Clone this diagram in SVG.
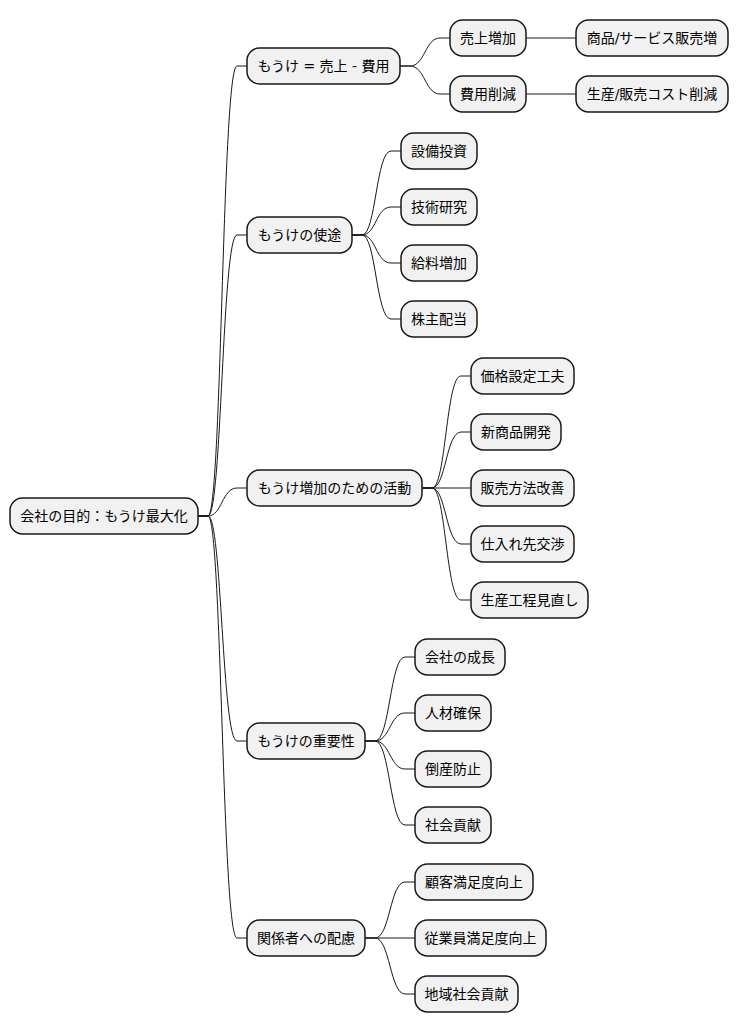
<svg xmlns="http://www.w3.org/2000/svg" width="738" height="1034" viewBox="0 0 738 1034">
<style>
.n rect{fill:#F1F1F1;stroke:#181818;stroke-width:1.5}
.n text{font-family:"DejaVu Sans","Noto Sans CJK JP",sans-serif;font-size:14px;fill:#000;text-anchor:middle}
#edges path{fill:none;stroke:#181818;stroke-width:1}
</style>
<rect width="738" height="1034" fill="#FFFFFF"/>
<g id="edges">
<path d="M198,516 L208,516 C222,516 222,66 237,66 L247,66"/>
<path d="M198,516 L208,516 C222,516 222,235 237,235 L247,235"/>
<path d="M198,516 L208,516 C222,516 222,488 237,488 L247,488"/>
<path d="M198,516 L208,516 C222,516 222,741 237,741 L247,741"/>
<path d="M198,516 L208,516 C222,516 222,938 237,938 L247,938"/>
<path d="M400,66 L410,66 C425,66 425,38 440,38 L450,38"/>
<path d="M400,66 L410,66 C425,66 425,94 440,94 L450,94"/>
<path d="M526,38 L576,38"/>
<path d="M526,94 L576,94"/>
<path d="M352,235 L362,235 C376,235 376,151 391,151 L401,151"/>
<path d="M352,235 L362,235 C376,235 376,207 391,207 L401,207"/>
<path d="M352,235 L362,235 C376,235 376,263 391,263 L401,263"/>
<path d="M352,235 L362,235 C376,235 376,319 391,319 L401,319"/>
<path d="M422,488 L432,488 C446,488 446,376 461,376 L471,376"/>
<path d="M422,488 L432,488 C446,488 446,432 461,432 L471,432"/>
<path d="M422,488 L471,488"/>
<path d="M422,488 L432,488 C446,488 446,544 461,544 L471,544"/>
<path d="M422,488 L432,488 C446,488 446,600 461,600 L471,600"/>
<path d="M365,741 L375,741 C390,741 390,657 405,657 L415,657"/>
<path d="M365,741 L375,741 C390,741 390,713 405,713 L415,713"/>
<path d="M365,741 L375,741 C390,741 390,769 405,769 L415,769"/>
<path d="M365,741 L375,741 C390,741 390,825 405,825 L415,825"/>
<path d="M365,938 L375,938 C390,938 390,882 405,882 L415,882"/>
<path d="M365,938 L415,938"/>
<path d="M365,938 L375,938 C390,938 390,994 405,994 L415,994"/>
</g>
<g id="root" class="n"><rect x="10" y="498" width="188" height="36" rx="12.5"/><text x="104" y="521">会社の目的：もうけ最大化</text></g>
<g id="a" class="n"><rect x="247" y="48" width="153" height="36" rx="12.5"/><text x="323.5" y="71">もうけ = 売上 - 費用</text></g>
<g id="a1" class="n"><rect x="450" y="20" width="76" height="36" rx="12.5"/><text x="488" y="43">売上増加</text></g>
<g id="a1a" class="n"><rect x="576" y="20" width="152" height="36" rx="12.5"/><text x="652" y="43">商品/サービス販売増</text></g>
<g id="a2" class="n"><rect x="450" y="76" width="76" height="36" rx="12.5"/><text x="488" y="99">費用削減</text></g>
<g id="a2a" class="n"><rect x="576" y="76" width="152" height="36" rx="12.5"/><text x="652" y="99">生産/販売コスト削減</text></g>
<g id="b" class="n"><rect x="247" y="217" width="105" height="36" rx="12.5"/><text x="299.5" y="240">もうけの使途</text></g>
<g id="b1" class="n"><rect x="401" y="133" width="76" height="36" rx="12.5"/><text x="439" y="156">設備投資</text></g>
<g id="b2" class="n"><rect x="401" y="189" width="76" height="36" rx="12.5"/><text x="439" y="212">技術研究</text></g>
<g id="b3" class="n"><rect x="401" y="245" width="76" height="36" rx="12.5"/><text x="439" y="268">給料増加</text></g>
<g id="b4" class="n"><rect x="401" y="301" width="76" height="36" rx="12.5"/><text x="439" y="324">株主配当</text></g>
<g id="c" class="n"><rect x="247" y="470" width="175" height="36" rx="12.5"/><text x="334.5" y="493">もうけ増加のための活動</text></g>
<g id="c1" class="n"><rect x="471" y="358" width="103" height="36" rx="12.5"/><text x="522.5" y="381">価格設定工夫</text></g>
<g id="c2" class="n"><rect x="471" y="414" width="90" height="36" rx="12.5"/><text x="516" y="437">新商品開発</text></g>
<g id="c3" class="n"><rect x="471" y="470" width="103" height="36" rx="12.5"/><text x="522.5" y="493">販売方法改善</text></g>
<g id="c4" class="n"><rect x="471" y="526" width="103" height="36" rx="12.5"/><text x="522.5" y="549">仕入れ先交渉</text></g>
<g id="c5" class="n"><rect x="471" y="582" width="117" height="36" rx="12.5"/><text x="529.5" y="605">生産工程見直し</text></g>
<g id="d" class="n"><rect x="247" y="723" width="118" height="36" rx="12.5"/><text x="306" y="746">もうけの重要性</text></g>
<g id="d1" class="n"><rect x="415" y="639" width="90" height="36" rx="12.5"/><text x="460" y="662">会社の成長</text></g>
<g id="d2" class="n"><rect x="415" y="695" width="76" height="36" rx="12.5"/><text x="453" y="718">人材確保</text></g>
<g id="d3" class="n"><rect x="415" y="751" width="76" height="36" rx="12.5"/><text x="453" y="774">倒産防止</text></g>
<g id="d4" class="n"><rect x="415" y="807" width="76" height="36" rx="12.5"/><text x="453" y="830">社会貢献</text></g>
<g id="e" class="n"><rect x="247" y="920" width="118" height="36" rx="12.5"/><text x="306" y="943">関係者への配慮</text></g>
<g id="e1" class="n"><rect x="415" y="864" width="118" height="36" rx="12.5"/><text x="474" y="887">顧客満足度向上</text></g>
<g id="e2" class="n"><rect x="415" y="920" width="131" height="36" rx="12.5"/><text x="480.5" y="943">従業員満足度向上</text></g>
<g id="e3" class="n"><rect x="415" y="976" width="103" height="36" rx="12.5"/><text x="466.5" y="999">地域社会貢献</text></g>
</svg>
